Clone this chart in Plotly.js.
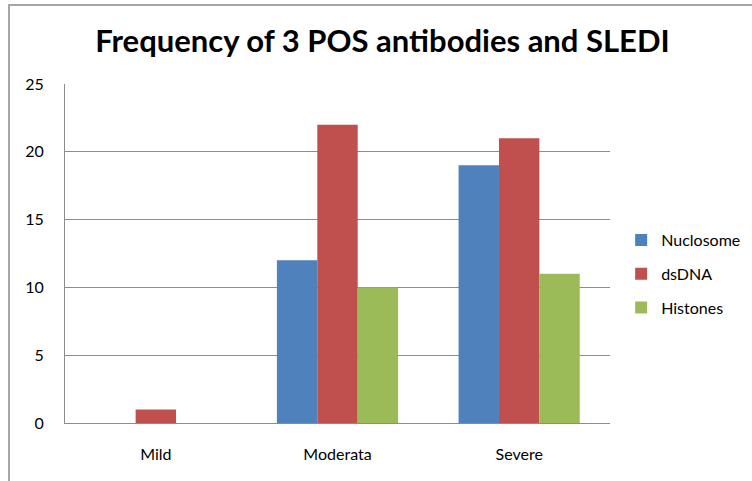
<!DOCTYPE html>
<html><head><meta charset="utf-8">
<script src="https://cdn.plot.ly/plotly-3.0.1.min.js"></script>
<style>
html,body{margin:0;padding:0;background:#fff;}
#chart{width:752px;height:481px;position:relative;}
#frame{position:absolute;left:8px;top:4px;width:760px;height:490px;border-left:2px solid #a6a6a6;border-top:2px solid #a6a6a6;pointer-events:none;}
</style></head>
<body>
<div id="chart"></div>
<div id="frame"></div>
<script>
const categories = ["Mild", "Moderata", "Severe"];
const seriesNames = ["Nuclosome", "dsDNA", "Histones"];
const nuclosome = [0, 12, 19];
const dsdna = [1, 22, 21];
const histones = [0, 10, 11];
const yTicks = [0, 5, 10, 15, 20, 25];
const colors = ["#4F81BD", "#C0504D", "#9BBB59"];
const values = [nuclosome, dsdna, histones];

const font = "Lato, 'Open Sans', sans-serif";
const traces = values.map((v, i) => ({
  type: "bar", name: seriesNames[i], x: categories, y: v,
  marker: {color: colors[i], line: {width: 0}},
  legendgroup: "g" + i, hoverinfo: "none"
}));

const layout = {
  width: 752, height: 481,
  margin: {l: 65, r: 142, t: 84, b: 58, autoexpand: false},
  paper_bgcolor: "#fff", plot_bgcolor: "#fff",
  title: {text: "<b>Frequency of 3 POS antibodies and SLEDI</b>", font: {family: font, size: 31, color: "#000"}, x: 0.5086, xanchor: "center", y: 0.915, yanchor: "middle"},
  barmode: "group", bargap: 0.333, bargroupgap: 0,
  showlegend: true,
  legend: {xref: "container", yref: "container", x: 0.826, xanchor: "left", y: 0.4304, yanchor: "middle", font: {family: font, size: 16, color: "#000"}, tracegroupgap: 10, bgcolor: "rgba(0,0,0,0)"},
  xaxis: {type: "category", showline: true, linecolor: "#8c8c8c", linewidth: 1, showgrid: false, ticks: "", ticklabelstandoff: 17, tickfont: {family: font, size: 16, color: "#000"}, fixedrange: true},
  yaxis: {range: [0, 25], tickvals: yTicks, ticktext: yTicks.map(String), showline: true, linecolor: "#8c8c8c", linewidth: 1, showgrid: true, gridcolor: "#8c8c8c", gridwidth: 1, zeroline: false, ticks: "", ticklabelstandoff: 17, tickfont: {family: font, size: 16, color: "#000"}, fixedrange: true}
};
Plotly.newPlot("chart", traces, layout, {displayModeBar: false, staticPlot: true});
</script>
</body></html>
